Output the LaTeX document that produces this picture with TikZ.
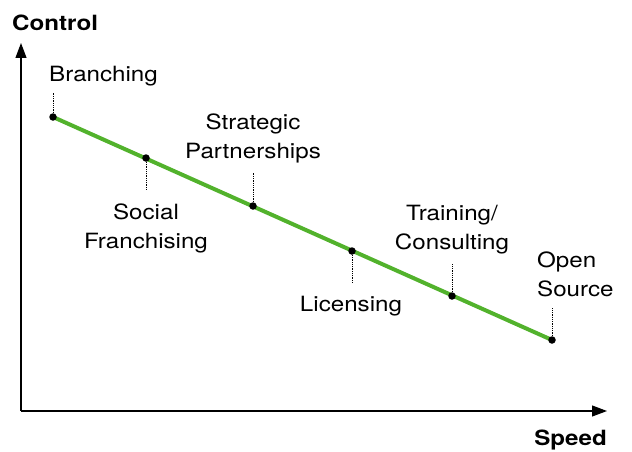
\documentclass[tikz,border=0pt]{standalone}
\usepackage{fontspec}
\setmainfont[FakeStretch=1.15]{TeX Gyre Heros}
\usetikzlibrary{arrows.meta}
\definecolor{lgreen}{RGB}{82,178,44}
\begin{document}
\begin{tikzpicture}[x=1pt,y=-1pt,
 lbl/.style={font=\fontsize{21}{29}\selectfont, inner sep=0pt, align=center, anchor=base},
 axlbl/.style={font=\fontsize{21}{29}\selectfont\bfseries, inner sep=0pt},
 dotnode/.style={circle, fill=black, inner sep=0pt, minimum size=7.5pt},
 leader/.style={densely dotted, line width=0.8pt},
 axis/.style={line width=1.1pt, -{Triangle[length=15pt,width=11pt]}},
 trend/.style={draw=lgreen, line width=4pt}]
\useasboundingbox (0,0) rectangle (632,452);
% axes
\coordinate (origin) at (21,411);
\coordinate (ytip) at (21,43);
\coordinate (xtip) at (607,411);
\draw[axis] (origin) -- (ytip);
\draw[axis] (origin) -- (xtip);
\node[axlbl, anchor=base west] (control) at (12,31) {Control};
\node[axlbl, anchor=base east] (speed) at (607,445) {Speed};
% trend line
\coordinate (bc) at (53,117);
\coordinate (oc) at (552,340);
\draw[trend] (bc) -- (oc);
% dots
\node[dotnode] (b) at (53,117) {};
\node[dotnode] (s) at (146,158) {};
\node[dotnode] (p) at (253,206) {};
\node[dotnode] (l) at (352,251) {};
\node[dotnode] (t) at (452,296) {};
\node[dotnode] (o) at (552,340) {};
% leader ends
\coordinate (bl) at (53,93);
\coordinate (sl) at (146,190);
\coordinate (pl) at (253,173);
\coordinate (ll) at (352,283);
\coordinate (tl) at (452,264);
\coordinate (ol) at (552,308);
\draw[leader] (b) -- (bl);
\draw[leader] (s) -- (sl);
\draw[leader] (p) -- (pl);
\draw[leader] (l) -- (ll);
\draw[leader] (t) -- (tl);
\draw[leader] (o) -- (ol);
% labels (base anchor = baseline of last line)
\node[lbl, anchor=base west] (branching) at (49,81.7) {Branching};
\node[lbl] (social) at (146,248.3) {Social\\Franchising};
\node[lbl] (strategic) at (253,158.3) {Strategic\\Partnerships};
\node[lbl] (licensing) at (351,311) {Licensing};
\node[lbl] (training) at (452,249.3) {Training/\\Consulting};
\node[lbl, align=left, anchor=base west] (open) at (537,296.7) {Open\\Source};
\end{tikzpicture}
\end{document}
